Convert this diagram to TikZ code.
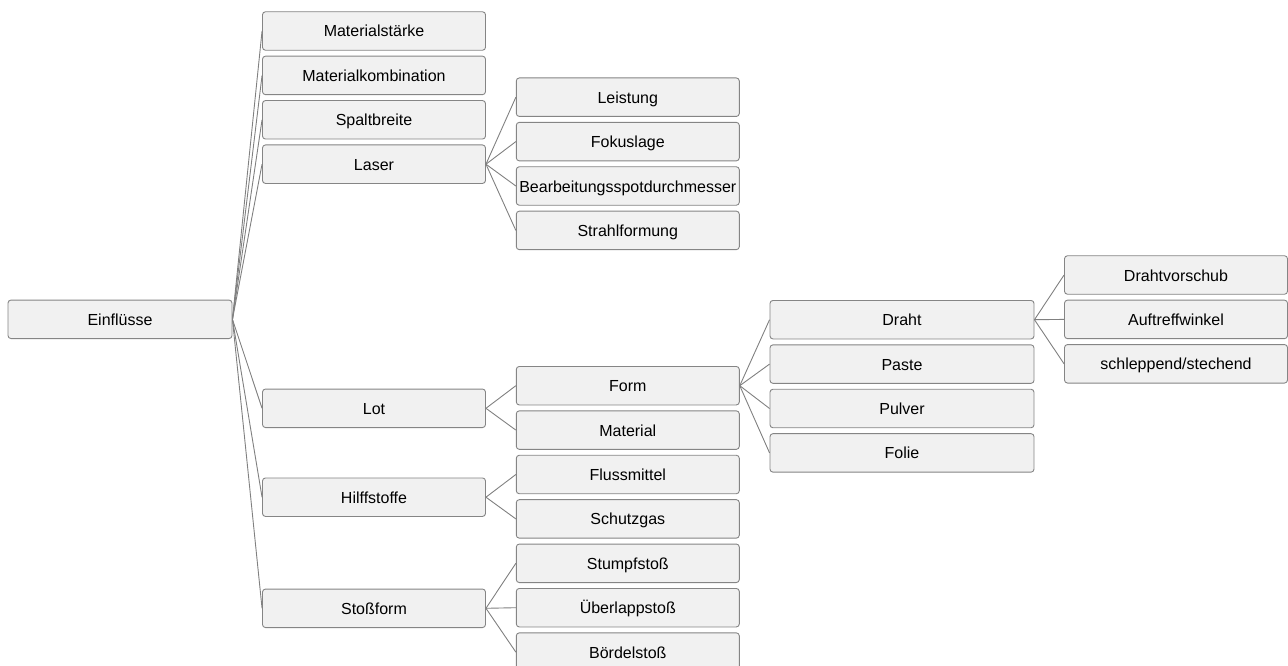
\documentclass[tikz,border=0pt]{standalone}
\usepackage{fontspec}
\setmainfont{Liberation Sans}
\usetikzlibrary{positioning}
\definecolor{boxfill}{HTML}{F1F1F1}
\definecolor{boxline}{HTML}{858585}
\definecolor{linkgray}{HTML}{808080}
\tikzset{
  box/.style={draw=boxline, fill=boxfill, line width=0.9pt, rounded corners=3pt,
    minimum height=38.5pt, minimum width=223pt, inner sep=0pt,
    text height=12.5pt, text depth=0.5pt,
    font=\fontsize{16}{19}\selectfont},
  widebox/.style={box, minimum width=264pt},
  link/.style={draw=linkgray, line width=0.9pt},
}

\begin{document}
\begin{tikzpicture}[x=1pt, y=-1pt]
  % --- Definitions ---
  \def\gap{5pt} % Space between stacked boxes
  \useasboundingbox (0,0) rectangle (1288,666);

  % --- 1. Root ---
  \node[box, minimum width=224pt] (einfl) at (120,319.3) {Einflüsse};

  % --- 2. First level ---
  \node[box] (mstaerke) at (374,31) {Materialstärke};
  \node[box, below=\gap of mstaerke] (mkomb) {Materialkombination};
  \node[box, below=\gap of mkomb] (spalt) {Spaltbreite};
  \node[box, below=\gap of spalt] (laser) {Laser};
  \node[box] (lot) at (374,408.3) {Lot};
  \node[box] (hilfs) at (374,497.2) {Hilffstoffe};
  \node[box] (stoss) at (374,608.3) {Stoßform};

  % --- 3. Second level ---
  % Laser
  \node[box] (leistung) at (627.8,97.2) {Leistung};
  \node[box, below=\gap of leistung] (fokus) {Fokuslage};
  \node[box, below=\gap of fokus] (bearb) {Bearbeitungsspotdurchmesser};
  \node[box, below=\gap of bearb] (strahl) {Strahlformung};
  % Lot, Hilfsstoffe, Stossform
  \node[box] (form) at (627.8,385.7) {Form};
  \node[box, below=\gap of form] (material) {Material};
  \node[box, below=\gap of material] (fluss) {Flussmittel};
  \node[box, below=\gap of fluss] (schutz) {Schutzgas};
  \node[box, below=\gap of schutz] (stumpf) {Stumpfstoß};
  \node[box, below=\gap of stumpf] (ueber) {Überlappstoß};
  \node[box, below=\gap of ueber] (boerdel) {Bördelstoß};

  % --- 4. Third level (Form) ---
  \node[widebox] (draht) at (902,319.7) {Draht};
  \node[widebox, below=\gap of draht] (paste) {Paste};
  \node[widebox, below=\gap of paste] (pulver) {Pulver};
  \node[widebox, below=\gap of pulver] (folie) {Folie};

  % --- 5. Fourth level (Draht) ---
  \node[box] (vorschub) at (1176,275) {Drahtvorschub};
  \node[box, below=\gap of vorschub] (auftreff) {Auftreffwinkel};
  \node[box, below=\gap of auftreff] (schlepp) {schleppend/stechend};

  % --- 6. Connectors ---
  \foreach \c in {mstaerke,mkomb,spalt,laser,lot,hilfs,stoss}
    \draw[link] (einfl.east) -- (\c.west);
  \foreach \c in {leistung,fokus,bearb,strahl}
    \draw[link] (laser.east) -- (\c.west);
  \foreach \c in {form,material}
    \draw[link] (lot.east) -- (\c.west);
  \foreach \c in {fluss,schutz}
    \draw[link] (hilfs.east) -- (\c.west);
  \foreach \c in {stumpf,ueber,boerdel}
    \draw[link] (stoss.east) -- (\c.west);
  \foreach \c in {draht,paste,pulver,folie}
    \draw[link] (form.east) -- (\c.west);
  \foreach \c in {vorschub,auftreff,schlepp}
    \draw[link] (draht.east) -- (\c.west);
\end{tikzpicture}
\end{document}
